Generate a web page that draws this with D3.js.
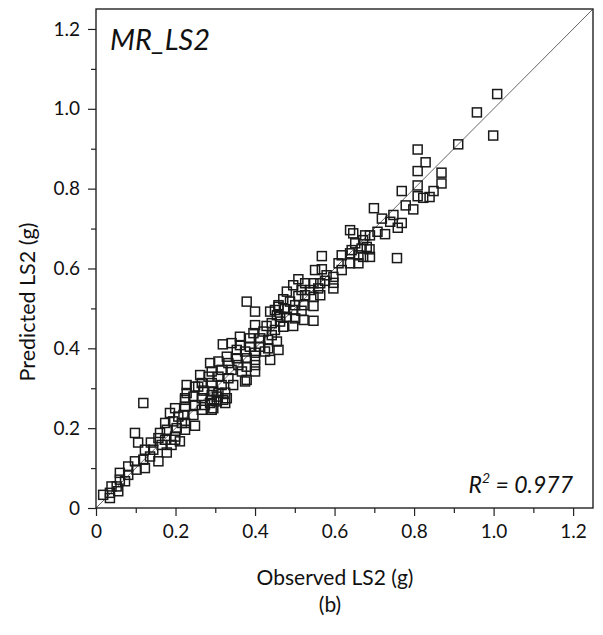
<!DOCTYPE html>
<html>
<head>
<meta charset="utf-8">
<script src="https://cdn.jsdelivr.net/npm/d3@7"></script>
<style>
  body { margin: 0; background: #fff; }
  svg text { font-family: Lato, "Open Sans", sans-serif; fill: #111; }
</style>
</head>
<body>
<svg id="chart" width="603" height="635"></svg>
<script>
// observed vs predicted LS2 (g)
var observed = [
  1.009, 0.958, 0.999, 0.911, 0.809, 0.829, 0.809, 0.869, 0.869, 0.809,
  0.849, 0.769, 0.809, 0.839, 0.823, 0.779, 0.798, 0.699, 0.748, 0.719,
  0.740, 0.769, 0.759, 0.727, 0.708, 0.689, 0.677, 0.668, 0.681, 0.689,
  0.672, 0.757, 0.639, 0.647, 0.652, 0.672, 0.643, 0.688, 0.568, 0.618,
  0.639, 0.660, 0.610, 0.639, 0.660, 0.551, 0.568, 0.618, 0.597, 0.580,
  0.509, 0.526, 0.547, 0.564, 0.576, 0.597, 0.597, 0.496, 0.517, 0.538,
  0.559, 0.480, 0.509, 0.526, 0.547, 0.564, 0.471, 0.488, 0.459, 0.501,
  0.522, 0.547, 0.450, 0.475, 0.496, 0.517, 0.455, 0.480, 0.501, 0.522,
  0.547, 0.463, 0.442, 0.450, 0.471, 0.496, 0.442, 0.379, 0.400, 0.438,
  0.459, 0.463, 0.400, 0.429, 0.396, 0.421, 0.362, 0.387, 0.413, 0.433,
  0.455, 0.319, 0.341, 0.362, 0.387, 0.413, 0.433, 0.354, 0.375, 0.400,
  0.425, 0.459, 0.329, 0.354, 0.379, 0.400, 0.438, 0.287, 0.308, 0.333,
  0.358, 0.379, 0.400, 0.291, 0.316, 0.341, 0.367, 0.400, 0.262, 0.283,
  0.308, 0.333, 0.379, 0.266, 0.291, 0.316, 0.345, 0.228, 0.249, 0.270,
  0.295, 0.325, 0.224, 0.245, 0.266, 0.291, 0.320, 0.224, 0.249, 0.274,
  0.295, 0.325, 0.220, 0.245, 0.224, 0.249, 0.119, 0.098, 0.106, 0.138,
  0.123, 0.144, 0.161, 0.174, 0.165, 0.178, 0.190, 0.199, 0.157, 0.136,
  0.119, 0.098, 0.123, 0.102, 0.081, 0.081, 0.060, 0.060, 0.073, 0.039,
  0.052, 0.035, 0.056, 0.018, 0.035, 0.186, 0.199, 0.207, 0.174, 0.194,
  0.216, 0.178, 0.203, 0.224, 0.157, 0.199, 0.211, 0.224, 0.228, 0.257,
  0.291, 0.308, 0.287, 0.304, 0.291, 0.266, 0.375, 0.329, 0.304
];
var predicted = [
  1.037, 0.991, 0.933, 0.911, 0.898, 0.866, 0.844, 0.840, 0.813, 0.808,
  0.794, 0.794, 0.781, 0.779, 0.777, 0.758, 0.748, 0.751, 0.734, 0.725,
  0.717, 0.714, 0.702, 0.686, 0.692, 0.683, 0.683, 0.650, 0.654, 0.629,
  0.629, 0.626, 0.696, 0.688, 0.663, 0.671, 0.646, 0.648, 0.631, 0.633,
  0.638, 0.633, 0.613, 0.613, 0.613, 0.596, 0.598, 0.596, 0.579, 0.583,
  0.573, 0.563, 0.563, 0.563, 0.569, 0.564, 0.550, 0.558, 0.546, 0.546,
  0.550, 0.542, 0.531, 0.533, 0.529, 0.533, 0.523, 0.517, 0.508, 0.508,
  0.508, 0.506, 0.496, 0.498, 0.496, 0.494, 0.483, 0.479, 0.475, 0.471,
  0.469, 0.467, 0.463, 0.446, 0.454, 0.456, 0.433, 0.517, 0.492, 0.492,
  0.504, 0.479, 0.458, 0.456, 0.438, 0.442, 0.429, 0.425, 0.425, 0.421,
  0.417, 0.410, 0.413, 0.408, 0.404, 0.404, 0.400, 0.396, 0.392, 0.389,
  0.392, 0.396, 0.379, 0.375, 0.375, 0.371, 0.371, 0.363, 0.367, 0.363,
  0.358, 0.354, 0.358, 0.342, 0.346, 0.346, 0.342, 0.342, 0.333, 0.329,
  0.329, 0.325, 0.321, 0.313, 0.313, 0.308, 0.308, 0.308, 0.304, 0.294,
  0.292, 0.289, 0.275, 0.279, 0.275, 0.271, 0.271, 0.254, 0.258, 0.258,
  0.250, 0.263, 0.233, 0.233, 0.213, 0.206, 0.263, 0.188, 0.164, 0.164,
  0.146, 0.146, 0.188, 0.171, 0.158, 0.139, 0.158, 0.179, 0.117, 0.129,
  0.121, 0.117, 0.100, 0.096, 0.104, 0.083, 0.088, 0.071, 0.067, 0.054,
  0.054, 0.038, 0.042, 0.033, 0.025, 0.238, 0.250, 0.229, 0.213, 0.217,
  0.213, 0.196, 0.200, 0.196, 0.175, 0.171, 0.167, 0.271, 0.288, 0.304,
  0.283, 0.288, 0.263, 0.267, 0.246, 0.246, 0.317, 0.275, 0.279
];
var majorTicks = [0, 0.2, 0.4, 0.6, 0.8, 1.0, 1.2];
var minorTicks = [0.1, 0.3, 0.5, 0.7, 0.9, 1.1];
var modelName = "MR_LS2";
var r2 = "0.977";

var svg = d3.select("#chart");
var plotL = 96, plotR = 593, plotT = 9, plotB = 508;

var x = d3.scaleLinear().domain([0, 1.25]).range([plotL, plotR]);
var y = d3.scaleLinear().domain([0, 1.25]).range([plotB, plotT]);

var fmt = d => d === 0 ? "0" : d.toFixed(1);

// minor ticks first, then major with labels
svg.append("g")
    .attr("transform", "translate(0," + plotB + ")")
    .call(d3.axisBottom(x).tickValues(minorTicks).tickSize(5).tickFormat(""));
svg.append("g")
    .attr("transform", "translate(0," + plotB + ")")
    .call(d3.axisBottom(x).tickValues(majorTicks).tickSize(8).tickPadding(9).tickFormat(fmt));
svg.append("g")
    .attr("transform", "translate(" + plotL + ",0)")
    .call(d3.axisLeft(y).tickValues(minorTicks).tickSize(5).tickFormat(""));
svg.append("g")
    .attr("transform", "translate(" + plotL + ",0)")
    .call(d3.axisLeft(y).tickValues(majorTicks).tickSize(8).tickPadding(8).tickFormat(fmt));

svg.selectAll(".domain").remove();
svg.selectAll(".tick line").attr("stroke", "#222").attr("stroke-width", 1.2);
svg.selectAll(".tick text")
    .attr("font-size", "19px")
    .style("font-family", "Lato, 'Open Sans', sans-serif")
    .attr("fill", "#111");

// 1:1 line
svg.append("line")
    .attr("x1", x(0)).attr("y1", y(0))
    .attr("x2", x(1.25)).attr("y2", y(1.25))
    .attr("stroke", "#666")
    .attr("stroke-width", 1);

// points
var pts = observed.map((d, i) => ({obs: d, pred: predicted[i]}));
var s = 9;
svg.append("g")
  .selectAll("rect")
  .data(pts)
  .enter()
  .append("rect")
    .attr("x", d => x(d.obs) - s / 2)
    .attr("y", d => y(d.pred) - s / 2)
    .attr("width", s)
    .attr("height", s)
    .attr("fill", "none")
    .attr("stroke", "#1a1a1a")
    .attr("stroke-width", 1.5);

// frame
svg.append("rect")
    .attr("x", plotL).attr("y", plotT)
    .attr("width", plotR - plotL).attr("height", plotB - plotT)
    .attr("fill", "none")
    .attr("stroke", "#222")
    .attr("stroke-width", 1.4);

svg.append("text")
    .attr("x", 110).attr("y", 50)
    .attr("font-size", "29px")
    .attr("font-style", "italic")
    .text(modelName);

var rt = svg.append("text")
    .attr("x", 573).attr("y", 493)
    .attr("font-size", "23px")
    .attr("font-style", "italic")
    .attr("text-anchor", "end");
rt.append("tspan").text("R");
rt.append("tspan").attr("font-size", "14px").attr("dy", -10).text("2");
rt.append("tspan").attr("dy", 10).text(" = " + r2);

svg.append("text")
    .attr("x", 335).attr("y", 585)
    .attr("font-size", "21px")
    .attr("text-anchor", "middle")
    .text("Observed LS2 (g)");

svg.append("text")
    .attr("transform", "translate(35,302) rotate(-90)")
    .attr("font-size", "21.5px")
    .attr("text-anchor", "middle")
    .text("Predicted LS2 (g)");

svg.append("text")
    .attr("x", 330).attr("y", 612)
    .attr("font-size", "21px")
    .attr("text-anchor", "middle")
    .text("(b)");
</script>
</body>
</html>
